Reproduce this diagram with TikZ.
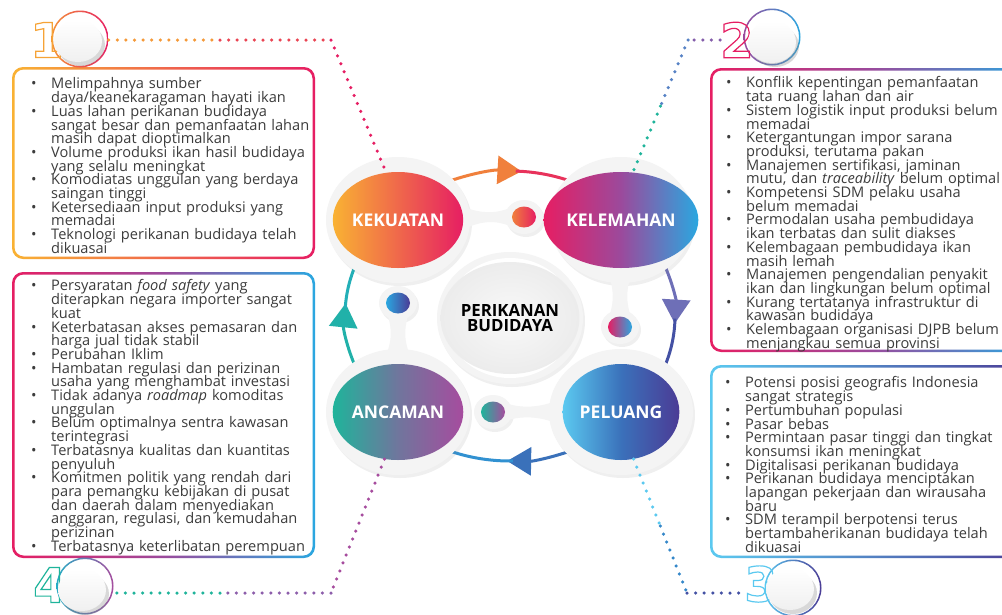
\documentclass[tikz,border=0pt]{standalone}
\usepackage{fontspec}
\setmainfont{Open Sans}
\newfontfamily\digitfont{DejaVu Sans}
\usepackage{xcolor}
\usetikzlibrary{positioning, calc, arrows.meta, shapes.geometric, shadows}

\definecolor{cyellow}{HTML}{F9B233}
\definecolor{corange}{HTML}{F0803C}
\definecolor{cpink}{HTML}{E61E63}
\definecolor{cpurple}{HTML}{9B4A9C}
\definecolor{cblue}{HTML}{2AA7E0}
\definecolor{clight}{HTML}{5BC9F0}
\definecolor{cindigo}{HTML}{4B3B95}
\definecolor{cteal}{HTML}{1FB49B}
\definecolor{cviolet}{HTML}{A64C9E}
\definecolor{ctext}{HTML}{3C3C3C}
\definecolor{chalo}{HTML}{F4F4F4}

\newcommand{\hollow}[1]{\special{pdf:literal 1 Tr 1.2 w}#1\special{pdf:literal 0 Tr}}
\newcommand{\itm}[1]{\par\lineskiplimit=-30pt\parskip=0pt\hangindent=20pt\hangafter=1\noindent\makebox[20pt][l]{\textbullet}#1}

\begin{document}
\begin{tikzpicture}[x=1pt, y=-1pt,
    framepath/.style={even odd rule, rounded corners=11pt},
    listtext/.style={anchor=north west, inner sep=0pt, text width=300pt, align=left, text=ctext,
      font=\fontsize{14.6}{13.7}\selectfont},
    halo/.style={fill=chalo, drop shadow={opacity=0.12, shadow xshift=2pt, shadow yshift=-3pt}},
    blob/.style={ellipse, minimum width=108pt, minimum height=96pt, inner sep=0pt, text=white,
      font=\fontsize{17.5}{18}\selectfont\bfseries},
    smalldot/.style={ellipse, minimum width=24pt, minimum height=21pt, inner sep=0pt},
    loopline/.style={line width=3pt},
    looptip/.style={-{Triangle[length=24pt, width=28pt]}},
    dotline/.style={line width=3.5pt, line cap=round, dash pattern=on 0pt off 8.6pt},
    numtext/.style={anchor=west, inner sep=0pt, font=\digitfont\bfseries\fontsize{48}{48}\selectfont},
    ringbox/.style={circle, minimum size=57pt, inner sep=0pt},
    badgedisc/.style={top color=white, bottom color=gray!12,
      drop shadow={opacity=0.3, shadow xshift=3pt, shadow yshift=-4pt}}]

\path[use as bounding box, fill=white] (0,0) rectangle (1002,614);

\shade[framepath, left color=cyellow, right color=cpink] (12,67) rectangle (315,259)
  [rounded corners=9pt] (14.5,69.5) rectangle (312.5,256.5);
\shade[framepath, left color=cpink, right color=cblue, middle color=cpurple] (12,272) rectangle (315,558)
  [rounded corners=9pt] (14.5,274.5) rectangle (312.5,555.5);
\shade[framepath, left color=cpink, right color=cblue, middle color=cpurple] (710,68) rectangle (1030,352)
  [rounded corners=9pt] (712.5,70.5) rectangle (1027.5,349.5);
\shade[framepath, left color=clight, right color=cindigo] (710,365) rectangle (1030,558)
  [rounded corners=9pt] (712.5,367.5) rectangle (1027.5,555.5);

\node[listtext] (kektext) at (31,75) {%
  \itm{Melimpahnya sumber\newline daya/keanekaragaman hayati ikan}
  \itm{Luas lahan perikanan budidaya\newline sangat besar dan pemanfaatan lahan\newline masih dapat dioptimalkan}
  \itm{Volume produksi ikan hasil budidaya\newline yang selalu meningkat}
  \itm{Komodiatas unggulan yang berdaya\newline saingan tinggi}
  \itm{Ketersediaan input produksi yang\newline memadai}
  \itm{Teknologi perikanan budidaya telah\newline dikuasai}\par};
\node[listtext] (anctext) at (31,277) {%
  \itm{Persyaratan \textit{food safety} yang\newline diterapkan negara importer sangat\newline kuat}
  \itm{Keterbatasan akses pemasaran dan\newline harga jual tidak stabil}
  \itm{Perubahan Iklim}
  \itm{Hambatan regulasi dan perizinan\newline usaha yang menghambat investasi}
  \itm{Tidak adanya \textit{roadmap} komoditas\newline unggulan}
  \itm{Belum optimalnya sentra kawasan\newline terintegrasi}
  \itm{Terbatasnya kualitas dan kuantitas\newline penyuluh}
  \itm{Komitmen politik yang rendah dari\newline para pemangku kebijakan di pusat\newline dan daerah dalam menyediakan\newline anggaran, regulasi, dan kemudahan\newline perizinan}
  \itm{Terbatasnya keterlibatan perempuan}\par};
\node[listtext] (keltext) at (726,74) {%
  \itm{Konflik kepentingan pemanfaatan\newline tata ruang lahan dan air}
  \itm{Sistem logistik input produksi belum\newline memadai}
  \itm{Ketergantungan impor sarana\newline produksi, terutama pakan}
  \itm{Manajemen sertifikasi, jaminan\newline mutu, dan \textit{traceability} belum optimal}
  \itm{Kompetensi SDM pelaku usaha\newline belum memadai}
  \itm{Permodalan usaha pembudidaya\newline ikan terbatas dan sulit diakses}
  \itm{Kelembagaan pembudidaya ikan\newline masih lemah}
  \itm{Manajemen pengendalian penyakit\newline ikan dan lingkungan belum optimal}
  \itm{Kurang tertatanya infrastruktur di\newline kawasan budidaya}
  \itm{Kelembagaan organisasi DJPB belum\newline menjangkau semua provinsi}\par};
\node[listtext] (peltext) at (725,374) {%
  \itm{Potensi posisi geografis Indonesia\newline sangat strategis}
  \itm{Pertumbuhan populasi}
  \itm{Pasar bebas}
  \itm{Permintaan pasar tinggi dan tingkat\newline konsumsi ikan meningkat}
  \itm{Digitalisasi perikanan budidaya}
  \itm{Perikanan budidaya menciptakan\newline lapangan pekerjaan dan wirausaha\newline baru}
  \itm{SDM terampil berpotensi terus\newline bertambaherikanan budidaya telah\newline dikuasai}\par};

\coordinate (ctr) at (510,316);
\draw[loopline, corange, looptip] (ctr) ++(-115:165 and 145) arc[start angle=-115, end angle=-86, x radius=165, y radius=145];
\draw[loopline, cpink!80!corange] (ctr) ++(-88:165 and 145) arc[start angle=-88, end angle=-65, x radius=165, y radius=145];
\draw[loopline, cpurple!60!cblue, looptip] (ctr) ++(-25:165 and 145) arc[start angle=-25, end angle=3, x radius=165, y radius=145];
\draw[loopline, cindigo!80!cblue] (ctr) ++(1:165 and 145) arc[start angle=1, end angle=25, x radius=165, y radius=145];
\draw[loopline, cindigo!50!cblue, looptip] (ctr) ++(65:165 and 145) arc[start angle=65, end angle=91, x radius=165, y radius=145];
\draw[loopline, cblue!80!cindigo] (ctr) ++(89:165 and 145) arc[start angle=89, end angle=115, x radius=165, y radius=145];
\draw[loopline, cteal!80!cblue, looptip] (ctr) ++(155:165 and 145) arc[start angle=155, end angle=185, x radius=165, y radius=145];
\draw[loopline, cteal!60!cblue] (ctr) ++(183:165 and 145) arc[start angle=183, end angle=205, x radius=165, y radius=145];

\path[halo] (398,220) ellipse [x radius=72, y radius=63];
\path[halo] (621,220) ellipse [x radius=72, y radius=63];
\path[halo] (398,412) ellipse [x radius=72, y radius=63];
\path[halo] (621,412) ellipse [x radius=72, y radius=63];
\path[halo] (524,217) ellipse [x radius=19, y radius=17];
\path[halo] (398,303) ellipse [x radius=19, y radius=17];
\path[halo] (620,327) ellipse [x radius=19, y radius=17];
\path[halo] (493,412) ellipse [x radius=19, y radius=17];
\path[halo] (510,318) ellipse [x radius=73, y radius=66];
\fill[chalo] (458,205) .. controls (480,214) and (495,214) .. (510,208) -- (510,226) .. controls (495,220) and (480,220) .. (458,232) -- cycle;
\fill[chalo] (608,272) .. controls (614,290) and (614,300) .. (610,314) -- (630,314) .. controls (626,300) and (626,290) .. (632,272) -- cycle;
\fill[chalo] (388,316) .. controls (392,330) and (392,340) .. (386,356) -- (410,356) .. controls (404,340) and (404,330) .. (408,316) -- cycle;
\fill[chalo] (508,404) .. controls (522,408) and (540,408) .. (558,400) -- (558,424) .. controls (540,416) and (522,416) .. (508,420) -- cycle;

\node[blob, left color=cyellow, right color=cpink] (kek) at (398,220) {KEKUATAN};
\node[blob, left color=cpink, right color=cblue, middle color=cpurple] (kel) at (621,220) {KELEMAHAN};
\node[blob, left color=cteal, right color=cviolet, middle color=cviolet!60!cteal] (anc) at (398,412) {ANCAMAN};
\node[blob, left color=clight, right color=cindigo, middle color=cblue!50!cindigo] (pel) at (621,412) {PELUANG};
\fill[white] (510,318) ellipse [x radius=65, y radius=60];
\node[ellipse, minimum width=122pt, minimum height=112pt, inner sep=0pt, inner color=gray!5, outer color=gray!15,
  align=center, font=\fontsize{16.8}{14.5}\selectfont\bfseries] (core) at (510,318) {PERIKANAN\\BUDIDAYA};

\node[smalldot, left color=corange, right color=cpink] (s1) at (524,217) {};
\node[smalldot, left color=cblue, right color=cindigo] (s2) at (398,303) {};
\node[smalldot, left color=cpink, right color=cblue] (s3) at (620,327) {};
\node[smalldot, left color=cteal, right color=cviolet] (s4) at (493,412) {};

\node[ringbox] (b1) at (80,39) {};
\shade[even odd rule, left color=corange!60!cyellow, right color=cpink] (b1.center) circle [radius=28.5] (b1.center) circle [radius=27];
\node[numtext, text=cyellow!70!corange] (n1) at (30,40) {\hollow{1}};
\path[badgedisc] (78,41) ellipse [x radius=24, y radius=21];

\node[ringbox] (b2) at (772,37) {};
\shade[even odd rule, left color=cpurple, right color=cblue] (b2.center) circle [radius=28.5] (b2.center) circle [radius=27];
\node[numtext, text=cpink] (n2) at (720,40) {\hollow{2}};
\path[badgedisc] (772,42) ellipse [x radius=24, y radius=21];

\node[ringbox] (b3) at (793,588) {};
\shade[even odd rule, left color=clight, right color=cindigo] (b3.center) circle [radius=28.5] (b3.center) circle [radius=27];
\node[numtext, text=clight] (n3) at (744,584) {\hollow{3}};
\path[badgedisc] (790,589) ellipse [x radius=24, y radius=21];

\node[ringbox] (b4) at (85,586) {};
\shade[even odd rule, left color=cblue!60!cteal, right color=cviolet] (b4.center) circle [radius=28.5] (b4.center) circle [radius=27];
\node[numtext, text=cteal] (n4) at (33,585) {\hollow{4}};
\path[badgedisc] (82,590) ellipse [x radius=24, y radius=21];

\coordinate (c1) at (331,40);
\coordinate (m1) at (220,40);
\draw[dotline, cyellow!50!corange] (b1.east |- c1) -- (m1);
\draw[dotline, corange!40!cpink] (m1) -- (c1);
\draw[dotline, cpink] (c1) -- (kek.104);

\coordinate (c2) at (688,40);
\coordinate (m2) at ($(c2)!0.5!(kel.76)$);
\draw[dotline, cpurple!80!cblue] (n2.west |- c2) -- (c2);
\draw[dotline, cblue!60!cpurple] (c2) -- (m2);
\draw[dotline, cteal] (m2) -- (kel.76);

\coordinate (c3) at (687,593);
\coordinate (m3) at ($(pel.285)!0.5!(c3)$);
\draw[dotline, clight] (pel.285) -- (m3);
\draw[dotline, cblue!70!cindigo] (m3) -- (c3);
\draw[dotline, cindigo!80!cblue] (c3) -- (n3.west |- c3);

\coordinate (c4) at (331,593);
\coordinate (m4) at (220,593);
\draw[dotline, cviolet] (anc.254) -- (c4);
\draw[dotline, cviolet!80!cblue] (c4) -- (m4);
\draw[dotline, cteal] (m4) -- (b4.east |- c4);
\end{tikzpicture}
\end{document}
